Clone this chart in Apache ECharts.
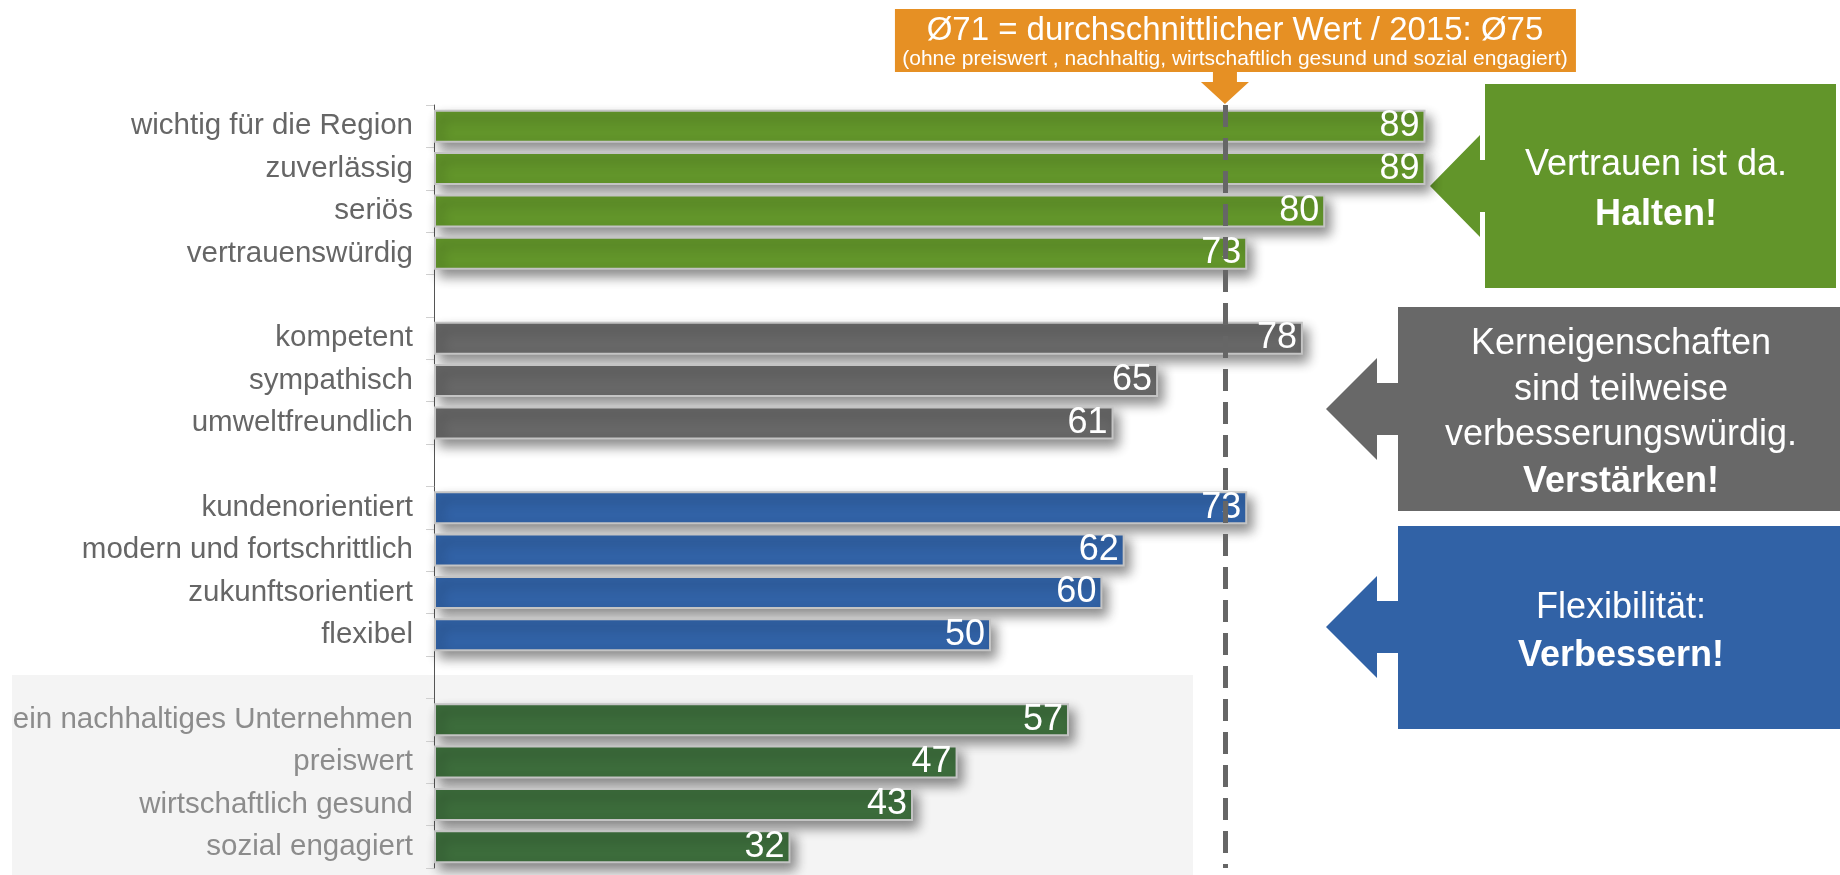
<!DOCTYPE html>
<html>
<head>
<meta charset="utf-8">
<script src="https://cdn.jsdelivr.net/npm/echarts@6/dist/echarts.min.js"></script>
<style>
html,body{margin:0;padding:0;background:#fff;}
#chart{width:1840px;height:875px;}
</style>
</head>
<body>
<div id="chart"></div>
<script>
// groups of the chart, top to bottom
const trustLabels = ["wichtig für die Region", "zuverlässig", "seriös", "vertrauenswürdig"];
const trustValues = [89, 89, 80, 73];
const coreLabels = ["kompetent", "sympathisch", "umweltfreundlich"];
const coreValues = [78, 65, 61];
const flexLabels = ["kundenorientiert", "modern und fortschrittlich", "zukunftsorientiert", "flexibel"];
const flexValues = [73, 62, 60, 50];
const otherLabels = ["ein nachhaltiges Unternehmen", "preiswert", "wirtschaftlich gesund", "sozial engagiert"];
const otherValues = [57, 47, 43, 32];
const avgValue = 71;

const font = "'Liberation Sans', Arial, sans-serif";
const groups = [
  {labels: trustLabels, values: trustValues, color: "#62952a"},
  {labels: coreLabels, values: coreValues, color: "#676767"},
  {labels: flexLabels, values: flexValues, color: "#3162a6"},
  {labels: otherLabels, values: otherValues, color: "#3c6c3b"}
];

// categories with an empty row between the groups
var categories = [];
var starts = [];
groups.forEach(function (g, i) {
  if (i > 0) categories.push(" ".repeat(i));
  starts.push(categories.length);
  g.labels.forEach(function (l) { categories.push(l); });
});
var lastStart = starts[3];

var series = groups.map(function (g, i) {
  var data = categories.map(function () { return "-"; });
  g.values.forEach(function (v, k) { data[starts[i] + k] = v; });
  var s = {
    type: "bar",
    data: data,
    barWidth: 33,
    barGap: "-100%",
    itemStyle: {
      color: g.color,
      borderColor: "#c4c4c4",
      borderWidth: 2,
      shadowColor: "rgba(0,0,0,0.45)",
      shadowBlur: 12,
      shadowOffsetX: 5,
      shadowOffsetY: 7
    },
    label: {
      show: true,
      position: "insideRight",
      distance: 6,
      color: "#fff",
      fontSize: 36,
      fontFamily: font
    }
  };
  if (i === 0) {
    s.markLine = {
      silent: true,
      symbol: ["none", "none"],
      label: {show: false},
      lineStyle: {color: "#666", width: 5, type: [22, 11]},
      data: [{xAxis: avgValue}]
    };
  }
  return s;
});

var dom = document.getElementById("chart");
var myChart = echarts.init(dom);
var option = {
  animation: false,
  backgroundColor: "#fff",
  grid: {left: 434, right: 292, top: 105, bottom: 7},
  xAxis: {type: "value", min: 0, max: 100, show: false},
  yAxis: {
    type: "category",
    inverse: true,
    data: categories,
    axisLine: {lineStyle: {color: "#555", width: 1}},
    axisTick: {show: true, length: 8, lineStyle: {color: "#d0d0d0"}},
    axisLabel: {
      margin: 21,
      fontSize: 29.5,
      fontFamily: font,
      color: function (value, index) {
        return index >= lastStart ? "#8c8c8c" : "#666";
      }
    }
  },
  series: series
};
myChart.setOption(option);

// callouts and the average box
var avgX = myChart.convertToPixel({xAxisIndex: 0}, avgValue);

function callout(color, box, gap, tipX, tipY, lines) {
  var baseX = box[0] - gap;
  var els = [
    {type: "rect", shape: {x: box[0], y: box[1], width: box[2], height: box[3]}, style: {fill: color}},
    {type: "polygon", shape: {points: [
      [tipX, tipY], [baseX, tipY - 51], [baseX, tipY - 26], [box[0] + 2, tipY - 26],
      [box[0] + 2, tipY + 26], [baseX, tipY + 26], [baseX, tipY + 51]
    ]}, style: {fill: color}}
  ];
  lines.forEach(function (l) {
    els.push({type: "text", x: l.x, y: l.y, style: {
      text: l.text, fill: "#fff", font: (l.bold ? "bold " : "") + "36px " + font,
      align: "center", verticalAlign: "middle"
    }});
  });
  return els;
}

var boxX = avgX + 10;
var graphics = [
  {type: "rect", z: -10, shape: {x: 12, y: 675, width: 1181, height: 200}, style: {fill: "#f4f4f4"}},
  {type: "rect", shape: {x: boxX - 340, y: 9, width: 681, height: 63}, style: {fill: "#e69024"}},
  {type: "polygon", shape: {points: [
    [avgX - 12, 71], [avgX + 12, 71], [avgX + 12, 82], [avgX + 24, 82],
    [avgX, 104], [avgX - 24, 82], [avgX - 12, 82]
  ]}, style: {fill: "#e69024"}},
  {type: "text", x: boxX, y: 31, style: {
    text: "Ø71 = durchschnittlicher Wert / 2015: Ø75", fill: "#fff",
    font: "33px " + font, align: "center", verticalAlign: "middle"
  }},
  {type: "text", x: boxX, y: 59, style: {
    text: "(ohne preiswert , nachhaltig, wirtschaftlich gesund und sozial engagiert)", fill: "#fff",
    font: "21px " + font, align: "center", verticalAlign: "middle"
  }}
];
graphics = graphics
  .concat(callout("#62952a", [1485, 84, 351, 204], 5, 1430, 186, [
    {text: "Vertrauen ist da.", x: 1656, y: 165},
    {text: "Halten!", x: 1656, y: 215, bold: true}
  ]))
  .concat(callout("#686868", [1398, 307, 442, 204], 21, 1326, 409, [
    {text: "Kerneigenschaften", x: 1621, y: 344},
    {text: "sind teilweise", x: 1621, y: 390},
    {text: "verbesserungswürdig.", x: 1621, y: 435},
    {text: "Verstärken!", x: 1621, y: 482, bold: true}
  ]))
  .concat(callout("#3162a6", [1398, 526, 442, 203], 21, 1326, 627, [
    {text: "Flexibilität:", x: 1621, y: 608},
    {text: "Verbessern!", x: 1621, y: 656, bold: true}
  ]));

myChart.setOption({graphic: graphics});
</script>
</body>
</html>
